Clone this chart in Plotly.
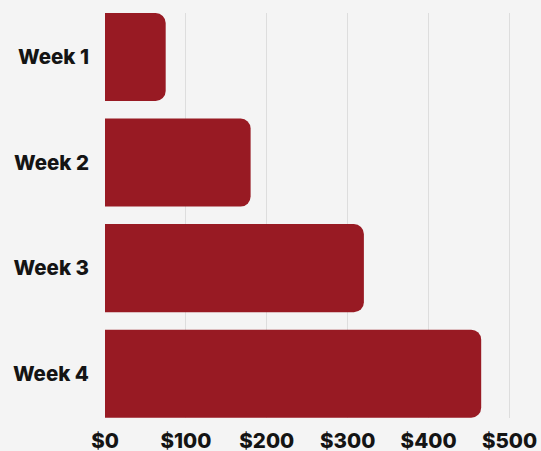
import plotly.graph_objects as go

categories = ["Week 1", "Week 2", "Week 3", "Week 4"]
values = [75, 180, 320, 465]
tick_vals = [0, 100, 200, 300, 400, 500]
tick_text = ["$0", "$100", "$200", "$300", "$400", "$500"]

W, H = 541, 451
left, right_px, top, bottom_px = 104.5, 518.0, 13, 418

fig = go.Figure(go.Bar(
    y=categories, x=values, orientation="h",
    marker=dict(color="#981a23", line=dict(width=0)),
    hoverinfo="skip",
))

fnt = dict(family="Inter", size=20.5, weight=800, color="#141414")

fig.update_layout(
    width=W, height=H,
    margin=dict(l=left, r=W - right_px, t=top, b=H - bottom_px, pad=0),
    paper_bgcolor="#f4f4f4", plot_bgcolor="#f4f4f4",
    bargap=0.166,
    barcornerradius=10,
    showlegend=False,
    font=fnt,
)
xr = (right_px - left) / 0.81
fig.update_xaxes(
    range=[0, xr], tickvals=tick_vals, ticktext=tick_text,
    showgrid=True, gridcolor="#dddddd", gridwidth=1,
    zeroline=False, showline=False, ticks="",
    ticklabelstandoff=8, automargin=False,
    tickfont=fnt,
)
fig.update_yaxes(
    range=[3.42, -0.417], showgrid=False, zeroline=False, showline=False,
    ticks="", ticklabelstandoff=15, automargin=False,
    tickfont=fnt,
)

fig.write_html(
    "out.html",
    config={"displayModeBar": False},
    post_script="document.body.style.margin='0';document.body.style.background='#f4f4f4';",
)
